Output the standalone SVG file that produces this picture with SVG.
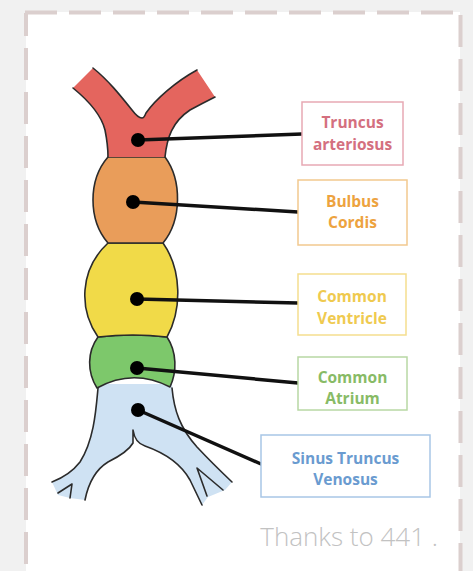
<svg xmlns="http://www.w3.org/2000/svg" width="473" height="571" viewBox="0 0 473 571">
  <style>
    .seg { stroke: #2b2b2b; stroke-width: 1.6; stroke-linejoin: round; }
    .outline { fill: none; stroke: #2b2b2b; stroke-width: 1.6; stroke-linecap: round; stroke-linejoin: round; }
    .dash { fill: none; stroke: #dbcfce; stroke-width: 4; stroke-dasharray: 32 12; }
    .dot { fill: #000; }
    .lead { fill: none; stroke: #111; stroke-width: 3.5; stroke-linecap: round; }
    .box { fill: #fff; stroke-width: 1.5; }
    .lbl { font-family: "Open Sans", "Liberation Sans", sans-serif; font-size: 15.5px; font-weight: 700; text-anchor: middle; }
    .credit { font-family: "Open Sans", "Liberation Sans", sans-serif; font-size: 26px; font-weight: 300; fill: #c2c2c2; text-anchor: end; }
  </style>

  <!-- page and card -->
  <rect x="0" y="0" width="473" height="571" fill="#f1f1f1"/>
  <rect x="26" y="12" width="434" height="559" fill="#ffffff"/>
  <g id="card-border">
    <path class="dash" d="M25,12.5 H454"/>
    <path class="dash" d="M26,13 V571" stroke-dashoffset="9"/>
    <path class="dash" d="M460.5,15 V571"/>
  </g>

  <!-- heart tube segments, bottom to top -->
  <g id="sinus-venosus">
    <path fill="#cfe2f3" d="M98,384 C96,410 94,440 80,462 Q70,475 52,482 L58,495 L70,498 L85,500 C88,485 95,470 108,462 Q128,452 133,443 L133,430 Q135,443 145,446 C162,452 180,462 190,480 L202,505 L208,497 L225,490 L232,482 Q212,463 197,447 C180,428 174,410 172,384 Z"/>
    <path class="outline" d="M98,388 C96,410 94,440 80,462 Q70,475 52,482"/>
    <path class="outline" d="M85,500 C88,485 95,470 108,462 Q128,452 133,443 L133,430 Q135,443 145,446 C162,452 180,462 190,480 L202,505"/>
    <path class="outline" d="M172,388 C174,410 180,428 197,447 Q212,463 232,482"/>
    <path class="outline" d="M58,493 L72,484 L70,498"/>
    <path class="outline" d="M207,496 L197,468 L223,490"/>
  </g>
  <g id="common-atrium">
    <path class="seg" fill="#7dc86b" d="M98,337 Q133,333 167,337 C177,352 177,372 170,387 Q133,368 97,388 C87,372 87,352 98,337 Z"/>
  </g>
  <g id="common-ventricle">
    <path class="seg" fill="#f1da48" d="M108,243 L163,243 C182,270 182,310 167,337 Q133,333 98,337 C79,310 79,270 108,243 Z"/>
  </g>
  <g id="bulbus-cordis">
    <path class="seg" fill="#e99d5a" d="M108,157 L165,157 C182,180 182,220 163,243 L108,243 C88,220 88,180 108,157 Z"/>
  </g>
  <g id="truncus-arteriosus">
    <path fill="#e4655e" d="M73,88 Q100,110 105,130 Q108,145 108,157 L165,157 C167,138 172,122 190,110 Q203,103 215,97 L197,70 C175,82 155,100 146,113 Q144,118 142,118 Q138,118 132,110 C120,95 108,80 93,68 Z"/>
    <!-- the cut ends of both arms stay open -->
    <path class="outline" d="M73,88 Q100,110 105,130 Q108,145 108,157"/>
    <path class="outline" d="M165,157 C167,138 172,122 190,110 Q203,103 215,97"/>
    <path class="outline" d="M197,70 C175,82 155,100 146,113 Q144,118 142,118 Q138,118 132,110 C120,95 108,80 93,68"/>
  </g>

  <!-- leader lines -->
  <g id="connectors">
    <path class="lead" d="M138,140 L302,134"/>
    <path class="lead" d="M133,202 L298,212"/>
    <path class="lead" d="M137,299 L298,303"/>
    <path class="lead" d="M137,368 L298,383"/>
    <path class="lead" d="M138,410 L261,464"/>
    <circle class="dot" cx="138" cy="140" r="7"/>
    <circle class="dot" cx="133" cy="202" r="7"/>
    <circle class="dot" cx="137" cy="299" r="7"/>
    <circle class="dot" cx="137" cy="368" r="7"/>
    <circle class="dot" cx="138" cy="410" r="7"/>
  </g>

  <!-- labels -->
  <g id="label-truncus">
    <rect class="box" x="302" y="102" width="101" height="63" stroke="#e7a9b4"/>
    <text class="lbl" fill="#d4707f" x="352.5" y="128">Truncus</text>
    <text class="lbl" fill="#d4707f" x="352.5" y="150">arteriosus</text>
  </g>
  <g id="label-bulbus">
    <rect class="box" x="298" y="180" width="109" height="65" stroke="#f2c98f"/>
    <text class="lbl" fill="#eda33f" x="352.5" y="207">Bulbus</text>
    <text class="lbl" fill="#eda33f" x="352.5" y="228">Cordis</text>
  </g>
  <g id="label-ventricle">
    <rect class="box" x="298" y="274" width="108" height="61" stroke="#f5de8e"/>
    <text class="lbl" fill="#efca4f" x="352" y="302">Common</text>
    <text class="lbl" fill="#efca4f" x="352" y="324">Ventricle</text>
  </g>
  <g id="label-atrium">
    <rect class="box" x="298" y="357" width="109" height="53" stroke="#b8d8a4"/>
    <text class="lbl" fill="#88bb66" x="352.5" y="383">Common</text>
    <text class="lbl" fill="#88bb66" x="352.5" y="404">Atrium</text>
  </g>
  <g id="label-sinus">
    <rect class="box" x="261" y="435" width="169" height="62" stroke="#a8c6e6"/>
    <text class="lbl" fill="#6a9bd0" x="345.5" y="464">Sinus Truncus</text>
    <text class="lbl" fill="#6a9bd0" x="345.5" y="485">Venosus</text>
  </g>

  <text class="credit" x="438" y="546">Thanks to 441 .</text>
</svg>
